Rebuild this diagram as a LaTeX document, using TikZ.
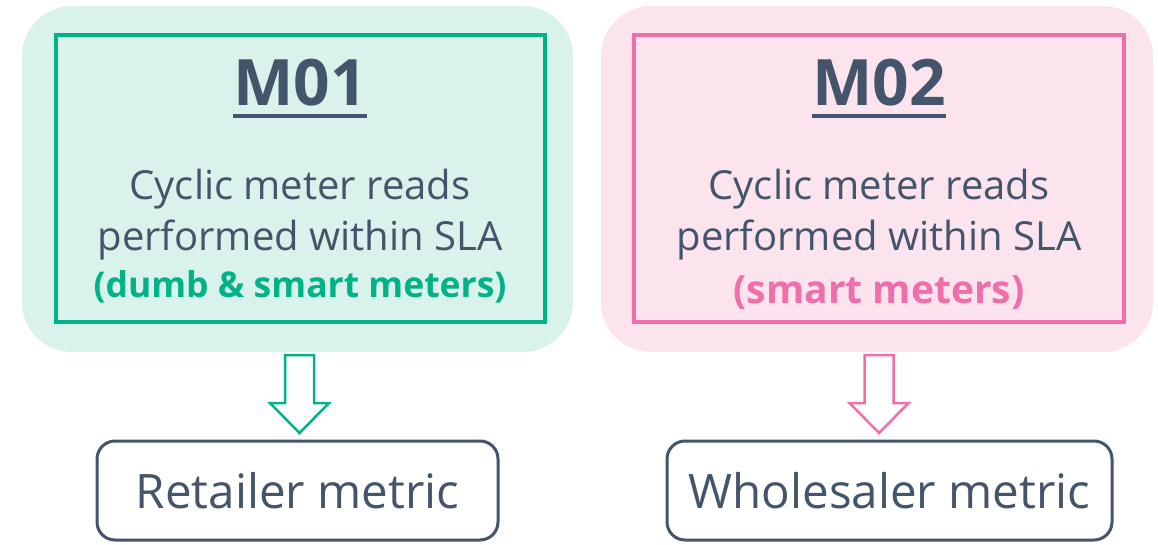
\documentclass[tikz,border=0pt]{standalone}
\usepackage{fontspec}
\setmainfont{Open Sans}
\definecolor{grn}{HTML}{00B386}
\definecolor{grnbg}{HTML}{D9F2EC}
\definecolor{pnk}{HTML}{F06EA9}
\definecolor{pnkbg}{HTML}{FCE4EE}
\definecolor{dark}{HTML}{44546A}
\tikzset{
  title/.style={anchor=base, inner sep=0pt, text=dark, font=\fontsize{64}{70}\selectfont\bfseries},
  body/.style={anchor=base, inner sep=0pt, text=dark, font=\fontsize{40}{46}\selectfont},
  note/.style={anchor=base, inner sep=0pt, font=\fontsize{35.5}{42}\selectfont\bfseries},
  bignote/.style={anchor=base, inner sep=0pt, font=\fontsize{39}{45}\selectfont\bfseries},
  metricbox/.style={draw=dark, line width=3pt, rounded corners=18pt, fill=white},
  metrictext/.style={anchor=center, inner sep=0pt, text=dark, font=\fontsize{47.5}{54}\selectfont},
  blockarrow/.style={line width=2.5pt, fill=white, line join=miter}
}
\begin{document}
\begin{tikzpicture}[x=1pt,y=-1pt]
\useasboundingbox (0,0) rectangle (1158,545);
% backgrounds
\fill[grnbg, rounded corners=50pt] (22,6) rectangle (573,352);
\fill[pnkbg, rounded corners=50pt] (601,6) rectangle (1153,352);
% inner frames
\draw[grn, line width=4.5pt] (56,35) rectangle (545,322);
\draw[pnk, line width=4.5pt] (634,35) rectangle (1124,322);
% titles
\node[title] (m1) at (300,106) {M01};
\node[title] (m2) at (879,106) {M02};
\draw[dark, line width=4pt] ([yshift=-10pt]m1.base west) -- ([yshift=-10pt]m1.base east);
\draw[dark, line width=4pt] ([yshift=-10pt]m2.base west) -- ([yshift=-10pt]m2.base east);
% body texts
\node[body] (l1a) at (300,200) {Cyclic meter reads};
\node[body] (l1b) at (300,251) {performed within SLA};
\node[note, text=grn] (l1c) at (300,297) {(dumb \& smart meters)};
\node[body] (l2a) at (879,200) {Cyclic meter reads};
\node[body] (l2b) at (879,251) {performed within SLA};
\node[bignote, text=pnk] (l2c) at (879,303) {(smart meters)};
% arrows
\draw[blockarrow, draw=grn] (285,355) -- (314,355) -- (314,403) -- (329,403) -- (299.5,433) -- (270,403) -- (285,403) -- cycle;
\draw[blockarrow, draw=pnk] (864.5,355) -- (893.5,355) -- (893.5,403) -- (908.5,403) -- (879,433) -- (849.5,403) -- (864.5,403) -- cycle;
% metric boxes
\draw[metricbox] (97,441) rectangle (498,540);
\draw[metricbox] (667,441) rectangle (1112,540);
\node[metrictext] (r) at (297.5,490.5) {Retailer metric};
\node[metrictext] (w) at (889.5,490.5) {Wholesaler metric};
\end{tikzpicture}
\end{document}
